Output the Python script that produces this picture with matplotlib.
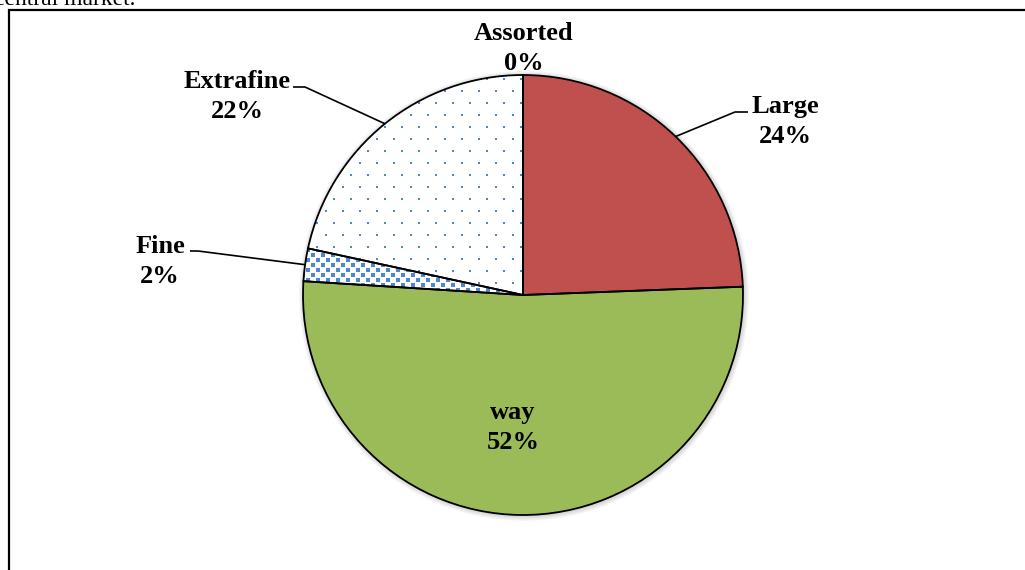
import matplotlib.pyplot as plt
import numpy as np
from matplotlib.patches import Rectangle, Circle, Wedge

plt.rcParams['font.family'] = ['Liberation Serif', 'DejaVu Serif']

labels = ['Large', 'way', 'Fine', 'Extrafine', 'Assorted']
shares = [24.4, 51.6, 2.4, 21.6, 0.0]
colors = ['#C0504D', '#9BBB59', 'white', 'white', 'white']

# label text centre (x, y of first line top, pixel coords from top-left)
label_pos = {
    'Large': (785, 95),
    'way': (513, 401),
    'Fine': (160, 235),
    'Extrafine': (237, 70),
    'Assorted': (524, 22),
}
# leader elbow and the short horizontal run next to the text
elbow = {
    'Large': ((748, 112), (735, 112)),
    'Fine': ((190, 251), (198, 251)),
    'Extrafine': ((293, 87), (305, 87)),
}

W, H = 1025, 570
cx, cy, R = 523, 295, 220

fig = plt.figure(figsize=(W / 100, H / 100), dpi=100)
ax = fig.add_axes([0, 0, 1, 1])

def fy(y):
    return H - y

# soft shadow under the pie
for k in range(5):
    ax.add_patch(Circle((cx + 1, fy(cy) - 1), R + 1 + k, color='black', alpha=0.03, lw=0, zorder=1))

wedges, _ = ax.pie(shares, colors=colors, startangle=90, counterclock=False,
                   center=(cx, fy(cy)), radius=R, frame=True,
                   wedgeprops=dict(edgecolor='none', linewidth=0))
for w in wedges:
    w.set_zorder(2)
ax.set_xlim(0, W)
ax.set_ylim(0, H)
ax.set_aspect('equal')
ax.axis('off')

# dotted fill for Extrafine
gx, gy = np.meshgrid(np.arange(0, 480, 17.0), np.arange(0, 480, 12.0))
gx[1::2] += 8.5
sc = ax.scatter(gx.ravel() + cx - 240, gy.ravel() + fy(cy) - 240, s=4.5, marker='s',
                color='#4F86D0', lw=0, zorder=3)
sc.set_clip_path(wedges[3])

# small checker squares for Fine
qx, qy = np.meshgrid(np.arange(0, 480, 5.0), np.arange(0, 480, 5.0))
mask = ((np.arange(qx.shape[0])[:, None] + np.arange(qx.shape[1])[None, :]) % 2) == 0
sq = ax.scatter(qx[mask] + cx - 240, qy[mask] + fy(cy) - 240, s=9, marker='s',
                color='#4F86D0', lw=0, zorder=3)
sq.set_clip_path(wedges[2])

# outlines drawn above the fills
for w in wedges:
    if w.theta2 - w.theta1 > 0:
        ax.add_patch(Wedge(w.center, w.r, w.theta1, w.theta2, fill=False,
                           ec='black', lw=1.3, zorder=4))

# labels with leaders
total = sum(shares)
start = 90.0
for name, v in zip(labels, shares):
    mid = start - v / total * 360 / 2
    start -= v / total * 360
    tx, ty = label_pos[name]
    ax.text(tx, fy(ty), f'{name}\n{v:.0f}%', ha='center', va='top', fontsize=19,
            fontweight='bold', linespacing=1.4, zorder=6)
    if name in elbow:
        (x0, y0), (x1, y1) = elbow[name]
        px = cx + R * np.cos(np.radians(mid))
        py = fy(cy) + R * np.sin(np.radians(mid))
        ax.plot([x0, x1, px], [fy(y0), fy(y1), py], color='black', lw=1.2, zorder=5,
                solid_capstyle='butt')

# outer frame and caption line above it
ax.add_patch(Rectangle((9, -20), W + 20, fy(10) + 20, fill=False, ec='black', lw=1.6, zorder=7))
ax.text(-6, fy(5), 'central market.', fontsize=17, ha='left', va='baseline', zorder=7)

fig.savefig('out.png', dpi=100)
